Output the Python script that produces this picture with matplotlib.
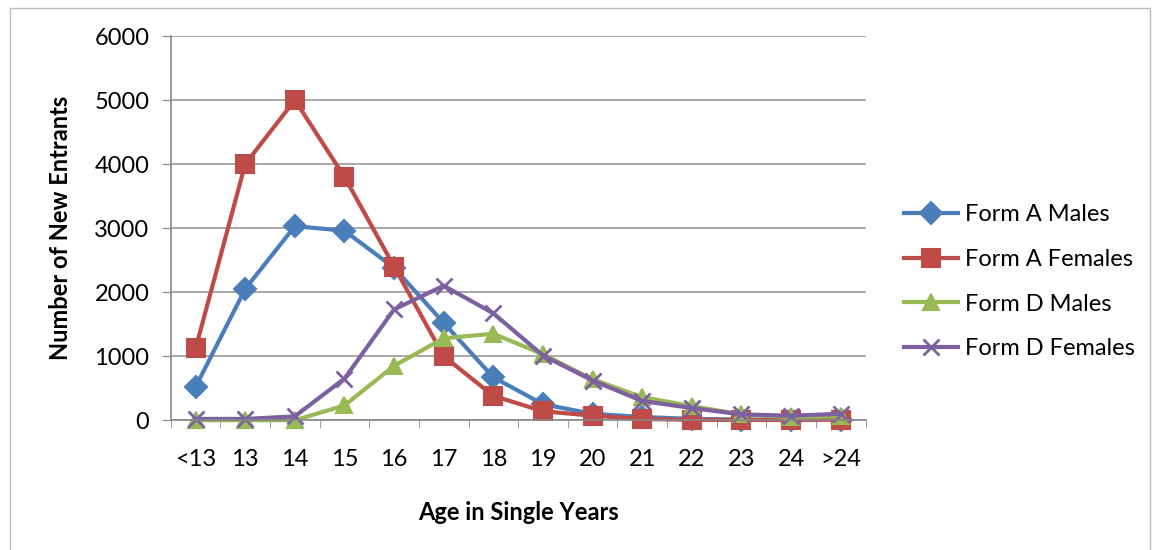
import matplotlib.pyplot as plt
from matplotlib.patches import Rectangle

ages = ["<13", "13", "14", "15", "16", "17", "18", "19", "20", "21", "22", "23", "24", ">24"]
form_a_males = [520, 2050, 3030, 2960, 2380, 1520, 670, 250, 100, 50, 20, 10, 5, 10]
form_a_females = [1120, 4000, 5000, 3800, 2400, 1000, 380, 140, 70, 20, 5, 5, 5, 10]
form_d_males = [0, 0, 0, 230, 850, 1280, 1350, 1030, 640, 360, 220, 90, 50, 60]
form_d_females = [20, 20, 60, 650, 1730, 2100, 1670, 1010, 620, 300, 190, 90, 70, 100]

series = [
    ("Form A Males", form_a_males, "#4A7EBB", "D", 11),
    ("Form A Females", form_a_females, "#BE4B48", "s", 13),
    ("Form D Males", form_d_males, "#98B954", "^", 12),
    ("Form D Females", form_d_females, "#7D60A0", "x", 12),
]

plt.rcParams["font.family"] = ["Lato", "DejaVu Sans"]

fig = plt.figure(figsize=(11.54, 5.5), dpi=100)
ax = fig.add_axes([0.148, 0.236, 0.602, 0.6985])

x = list(range(len(ages)))
for name, vals, color, marker, ms in series:
    ax.plot(x, vals, color=color, lw=3, marker=marker, markersize=ms,
            markeredgewidth=1.5 if marker != "x" else 2, label=name, clip_on=False)

ax.set_xlim(-0.5, len(ages) - 0.5)
ax.set_ylim(0, 6000)
ax.set_yticks(range(0, 6001, 1000))
ax.set_xticks(x)
ax.set_xticklabels(ages)
ax.set_xticks([i - 0.5 for i in range(len(ages) + 1)], minor=True)
ax.tick_params(axis="x", which="major", length=0, pad=21, labelsize=17)
ax.tick_params(axis="x", which="minor", length=6, color="#888888", direction="out")
ax.tick_params(axis="y", length=6.5, color="#888888", labelsize=17, pad=9)

ax.grid(axis="y", color="#999999", lw=1.2)
ax.set_axisbelow(True)
for side in ["top", "right"]:
    ax.spines[side].set_visible(False)
for side in ["left", "bottom"]:
    ax.spines[side].set_color("#888888")
    ax.spines[side].set_linewidth(1.2)

ax.set_ylabel("Number of New Entrants", fontsize=17, fontweight="bold", labelpad=16)
ax.set_xlabel("Age in Single Years", fontsize=17, fontweight="bold", labelpad=22)

ax.legend(loc="center left", bbox_to_anchor=(1.056, 0.36), frameon=False,
          fontsize=17, handlelength=2.25, labelspacing=1.0, handletextpad=0.3,
          borderpad=0, borderaxespad=0)

fig.patches.append(Rectangle((10 / 1154, -0.01), 1140 / 1154, 1 - 8 / 550 + 0.01,
                             transform=fig.transFigure, fill=False,
                             edgecolor="#BBBBBB", lw=1))

fig.savefig("out.png", dpi=100)
